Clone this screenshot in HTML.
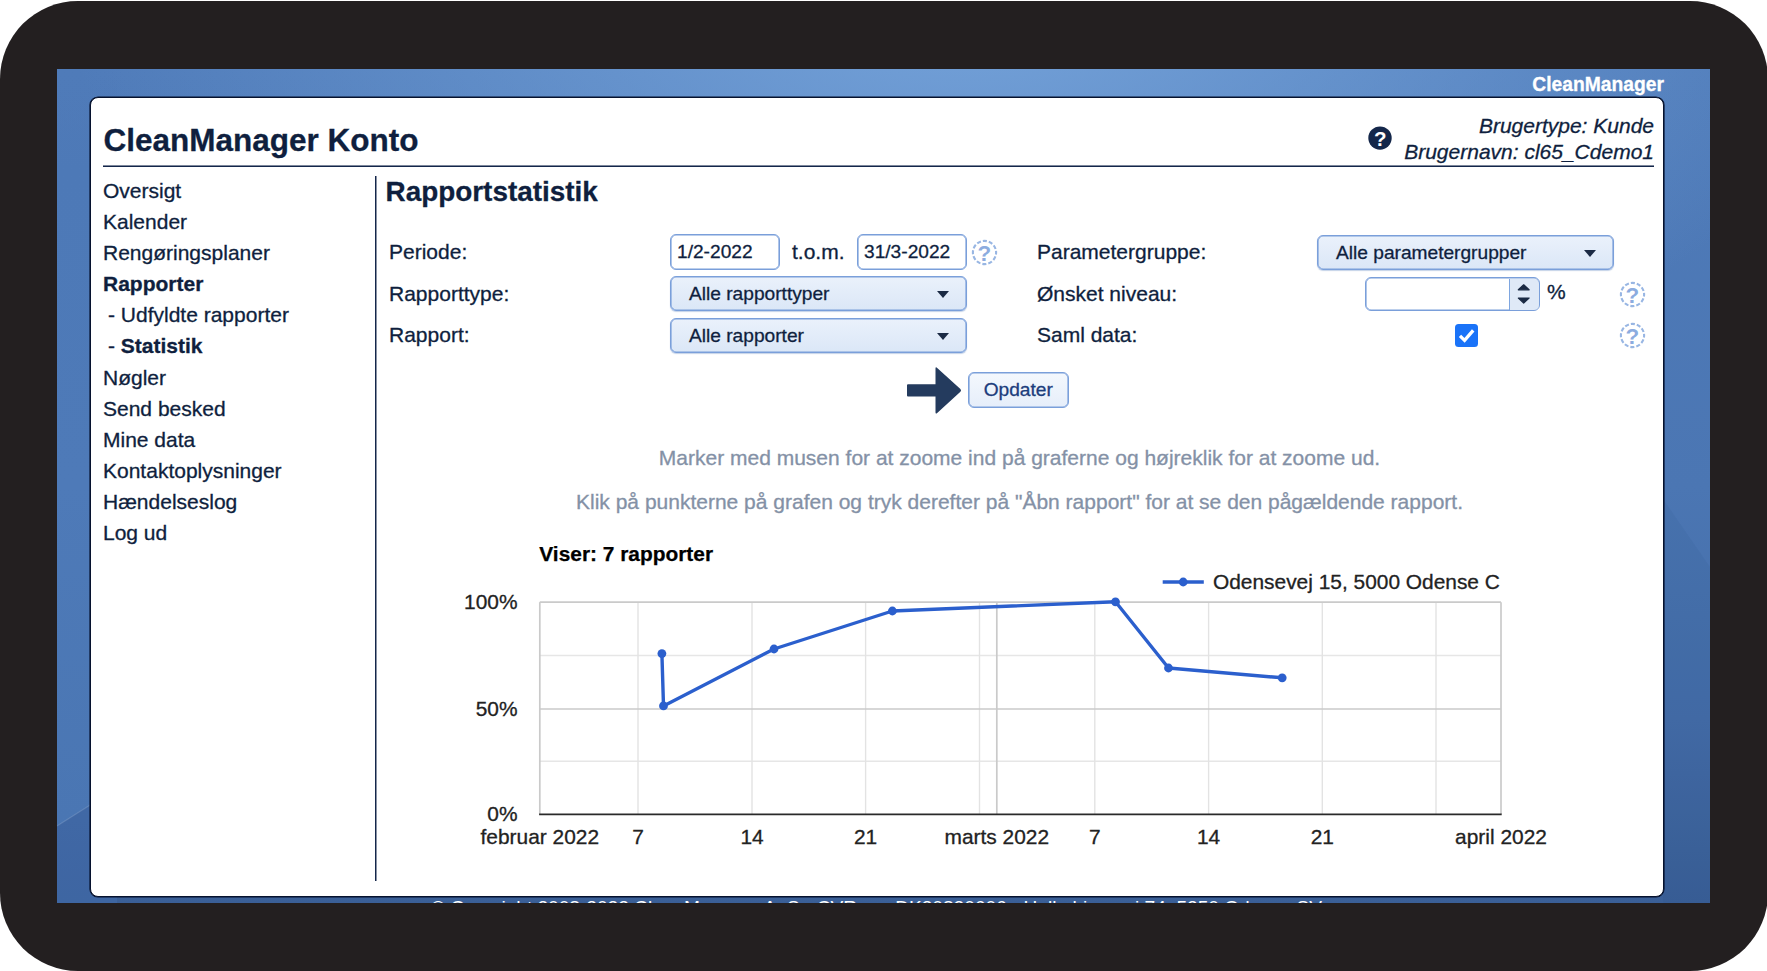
<!DOCTYPE html>
<html lang="da">
<head>
<meta charset="utf-8">
<title>CleanManager Konto - Rapportstatistik</title>
<style>
*{box-sizing:border-box;margin:0;padding:0}
html,body{width:1767px;height:971px;overflow:hidden;background:#fff}
body{font-family:"Liberation Sans",Arial,Helvetica,sans-serif;color:#0f1f3e;position:relative;-webkit-text-stroke:.3px #0f1f3e}
.frame{position:absolute;left:0;top:1px;width:1768px;height:970px;background:#231f20;border-radius:78px}
.screen{position:absolute;left:57px;top:69px;width:1653px;height:834px;overflow:hidden;
 background:
  radial-gradient(ellipse 900px 430px at 55% -8%, #75a3da 0%, rgba(117,163,218,0) 100%),
  linear-gradient(180deg,#4f7bb9 0%,#4b76b3 50%,#446da8 78%,#3a5f97 100%);}
.brand{position:absolute;right:46px;top:5px;font-size:19.3px;font-weight:bold;color:#fff;-webkit-text-stroke:.3px #fff;letter-spacing:0}
.panel{position:absolute;left:33px;top:28px;width:1574px;height:800px;background:#fff;border:1px solid #06122e;box-shadow:0 0 0 .6px #06122e;border-radius:8px}
.copy{position:absolute;left:0;width:1639px;top:828.4px;text-align:center;color:#fff;-webkit-text-stroke:0;font-size:19.1px;line-height:22px;white-space:nowrap}
.abs{position:absolute;white-space:nowrap}
h1{position:absolute;left:103.5px;top:122px;font-size:31.5px;line-height:36px;font-weight:bold;color:#0f1f3e;white-space:nowrap}
.hr{position:absolute;left:103px;top:166px;width:1550.5px;height:1px;background:#14264a;box-shadow:0 -.55px 0 0 #14264a}
.vr{position:absolute;left:375px;top:176px;width:1px;height:705px;background:#14264a;box-shadow:.5px 0 0 0 #14264a}
.user{position:absolute;right:113px;top:113px;text-align:right;font-style:italic;font-size:21px;line-height:26px;color:#0f1f3e;white-space:nowrap}
.menu{position:absolute;left:103px;top:175px;font-size:21px;line-height:31.1px;color:#0f1f3e;white-space:nowrap}
.menu div.sub{padding-left:5px}
h2{position:absolute;left:385.5px;top:175px;font-size:27.9px;line-height:34px;font-weight:bold;color:#0f1f3e;white-space:nowrap}
.lbl{position:absolute;font-size:21px;line-height:24px;color:#0f1f3e;white-space:nowrap}
.inp{position:absolute;height:36px;border:1px solid #7a9fda;box-shadow:inset 0 0 0 .6px #7a9fda;border-radius:6px;background:#fff;font-size:19.15px;line-height:34px;padding-left:6px;color:#0f1f3e;white-space:nowrap}
.sel{position:absolute;height:35px;border:1px solid #7a9fda;border-radius:6px;background:linear-gradient(180deg,#eaf1fb 0%,#dbe7f7 100%);font-size:19.15px;line-height:33px;padding-left:18px;color:#0f1f3e;white-space:nowrap;box-shadow:inset 0 0 0 .6px #7a9fda,0 1px 1px rgba(90,130,190,.35)}
.sel:after{content:"";position:absolute;right:17px;top:13.5px;border-left:6px solid transparent;border-right:6px solid transparent;border-top:7px solid #1b2a44}
.help{position:absolute;width:26px;height:26px}
.hint{position:absolute;left:376px;width:1287px;text-align:center;font-size:21px;line-height:24px;color:#8491a6;-webkit-text-stroke:.3px #8491a6;white-space:nowrap}
.btn{position:absolute;left:968px;top:372px;width:100.5px;height:36px;border:1px solid #7a9fda;box-shadow:inset 0 0 0 .6px #7a9fda;border-radius:6px;background:linear-gradient(180deg,#f4f8fd,#e6eefa);font-size:19.15px;line-height:34px;text-align:center;color:#1c3d7c;-webkit-text-stroke:.3px #1c3d7c}
</style>
</head>
<body>
<div class="frame"></div>
<div class="screen">
  <svg class="abs" style="left:0;top:0" width="1653" height="834" viewBox="0 0 1653 834"><defs><linearGradient id="ls" x1="0" y1="0" x2="0" y2="1"><stop offset="0" stop-color="#4f7ab8" stop-opacity="0"/><stop offset=".12" stop-color="#4d79b7" stop-opacity="1"/><stop offset=".5" stop-color="#4e7ab8"/><stop offset=".9" stop-color="#4a76b3"/><stop offset="1" stop-color="#4873b0"/></linearGradient></defs><rect x="0" y="0" width="60" height="834" fill="url(#ls)"/><polygon points="0,757 34,735.5 60,719 60,834 0,834" fill="rgba(25,50,110,.2)"/><line x1="0" y1="757" x2="34" y2="735.5" stroke="rgba(255,255,255,.14)" stroke-width="1.2"/><polygon points="1606,430 1653,498 1653,834 1606,834" fill="rgba(20,45,100,.06)"/></svg>
  <div class="brand">CleanManager</div>
  <div class="panel"></div>
  <div class="copy">© Copyright 2008-2022 CleanManager ApS - CVR-nr.: DK30820606 - Holkebjergvej 74, 5250 Odense SV</div>
</div>

<h1>CleanManager Konto</h1>
<div class="user">Brugertype: Kunde<br>Brugernavn: cl65_Cdemo1</div>
<svg class="abs" style="left:1367px;top:125px" width="26" height="26" viewBox="0 0 26 26"><circle cx="13" cy="13.1" r="11.7" fill="#14274a"/><text x="13.2" y="20.6" text-anchor="middle" font-family="Liberation Sans, Arial, sans-serif" font-weight="bold" font-size="20.5" fill="#fff">?</text></svg>
<div class="hr"></div>
<div class="vr"></div>

<div class="menu">
  <div>Oversigt</div>
  <div>Kalender</div>
  <div>Rengøringsplaner</div>
  <div><b>Rapporter</b></div>
  <div class="sub">- Udfyldte rapporter</div>
  <div class="sub">- <b>Statistik</b></div>
  <div>Nøgler</div>
  <div>Send besked</div>
  <div>Mine data</div>
  <div>Kontaktoplysninger</div>
  <div>Hændelseslog</div>
  <div>Log ud</div>
</div>

<h2>Rapportstatistik</h2>

<div class="lbl" style="left:389px;top:240px">Periode:</div>
<div class="lbl" style="left:389px;top:282px">Rapporttype:</div>
<div class="lbl" style="left:389px;top:323px">Rapport:</div>
<div class="inp" style="left:670px;top:234px;width:109.5px">1/2-2022</div>
<div class="lbl" style="left:792px;top:240px">t.o.m.</div>
<div class="inp" style="left:857px;top:234px;width:109.5px">31/3-2022</div>
<div class="sel" style="left:670px;top:276px;width:296.5px">Alle rapporttyper</div>
<div class="sel" style="left:670px;top:318px;width:296.5px">Alle rapporter</div>

<div class="lbl" style="left:1037px;top:240px">Parametergruppe:</div>
<div class="lbl" style="left:1037px;top:282px">Ønsket niveau:</div>
<div class="lbl" style="left:1037px;top:323px">Saml data:</div>
<div class="sel" style="left:1317px;top:235px;width:297px">Alle parametergrupper</div>
<div class="inp" style="left:1365px;top:277px;width:175px;height:34px"></div>
<div class="lbl" style="left:1547px;top:280px">%</div>


<!-- help icons -->
<svg class="abs" style="left:971px;top:239px" width="27" height="27" viewBox="0 0 27 27"><circle cx="13.5" cy="13.5" r="11.6" fill="none" stroke="#98b6e3" stroke-width="2.1" stroke-dasharray="4.1 1.97" stroke-dashoffset="-4.05"/><text x="13.3" y="21.7" text-anchor="middle" font-family="Liberation Sans, Arial, sans-serif" font-weight="bold" font-size="22.4" fill="#8cacdf">?</text></svg>
<svg class="abs" style="left:1618.5px;top:280.5px" width="27" height="27" viewBox="0 0 27 27"><circle cx="13.5" cy="13.5" r="11.6" fill="none" stroke="#98b6e3" stroke-width="2.1" stroke-dasharray="4.1 1.97" stroke-dashoffset="-4.05"/><text x="13.3" y="21.7" text-anchor="middle" font-family="Liberation Sans, Arial, sans-serif" font-weight="bold" font-size="22.4" fill="#8cacdf">?</text></svg>
<svg class="abs" style="left:1618.5px;top:322px" width="27" height="27" viewBox="0 0 27 27"><circle cx="13.5" cy="13.5" r="11.6" fill="none" stroke="#98b6e3" stroke-width="2.1" stroke-dasharray="4.1 1.97" stroke-dashoffset="-4.05"/><text x="13.3" y="21.7" text-anchor="middle" font-family="Liberation Sans, Arial, sans-serif" font-weight="bold" font-size="22.4" fill="#8cacdf">?</text></svg>

<!-- spinner -->
<div class="abs" style="left:1509px;top:278.5px;width:29.5px;height:31px;background:#dfe9f7;border-left:1.5px solid #7ea6e0;border-radius:0 5px 5px 0"></div>
<svg class="abs" style="left:1514px;top:281px" width="20" height="27" viewBox="0 0 20 27"><path d="M9.7 3.8 L15.1 8.8 H4.3 Z M9.7 22.1 L15.1 17 H4.3 Z" fill="#1b2a44" stroke="#1b2a44" stroke-width="1.2" stroke-linejoin="round"/></svg>

<!-- checkbox -->
<svg class="abs" style="left:1455px;top:324px" width="23" height="23" viewBox="0 0 23 23"><rect x="0" y="0" width="23" height="23" rx="3.5" fill="#1a73f8"/><path d="M5 11.8 L9.6 16.4 L18.2 6.4" fill="none" stroke="#fff" stroke-width="3.3" stroke-linecap="butt" stroke-linejoin="miter"/></svg>

<!-- arrow -->
<svg class="abs" style="left:905px;top:364px" width="60" height="53" viewBox="0 0 60 53"><path d="M3 20.2 H30.5 V4.6 Q30.5 2.4 32.2 3.9 L55.4 25 Q56.8 26.4 55.4 27.8 L32.2 48.9 Q30.5 50.4 30.5 48.2 V32.6 H3 Q2 32.6 2 31.6 V21.2 Q2 20.2 3 20.2 Z" fill="#243b5e"/></svg>

<div class="btn">Opdater</div>

<div class="hint" style="top:446px">Marker med musen for at zoome ind på graferne og højreklik for at zoome ud.</div>
<div class="hint" style="top:490px">Klik på punkterne på grafen og tryk derefter på "Åbn rapport" for at se den pågældende rapport.</div>

<!-- chart -->
<svg class="abs" style="left:430px;top:535px" width="1160" height="330" viewBox="0 0 1160 330" font-family="Liberation Sans, Arial, sans-serif">
<text x="109.3" y="26" font-size="20.9" font-weight="bold" fill="#000" stroke="#000" stroke-width=".25">Viser: 7 rapporter</text>
<line x1="109.8" x2="1071" y1="120.5" y2="120.5" stroke="#e6e6e6" stroke-width="1.4"/>
<line x1="109.8" x2="1071" y1="226.2" y2="226.2" stroke="#e6e6e6" stroke-width="1.4"/>
<line x1="208" x2="208" y1="67.2" y2="279" stroke="#e3e3e3" stroke-width="1.4"/>
<line x1="322" x2="322" y1="67.2" y2="279" stroke="#e3e3e3" stroke-width="1.4"/>
<line x1="435.6" x2="435.6" y1="67.2" y2="279" stroke="#e3e3e3" stroke-width="1.4"/>
<line x1="549.5" x2="549.5" y1="67.2" y2="279" stroke="#e3e3e3" stroke-width="1.4"/>
<line x1="664.8" x2="664.8" y1="67.2" y2="279" stroke="#e3e3e3" stroke-width="1.4"/>
<line x1="778.6" x2="778.6" y1="67.2" y2="279" stroke="#e3e3e3" stroke-width="1.4"/>
<line x1="892.3" x2="892.3" y1="67.2" y2="279" stroke="#e3e3e3" stroke-width="1.4"/>
<line x1="1006" x2="1006" y1="67.2" y2="279" stroke="#e3e3e3" stroke-width="1.4"/>
<line x1="109.8" x2="109.8" y1="67.2" y2="279" stroke="#cacaca" stroke-width="1.7"/>
<line x1="566.8" x2="566.8" y1="67.2" y2="279" stroke="#cacaca" stroke-width="1.7"/>
<line x1="1071" x2="1071" y1="67.2" y2="279" stroke="#cacaca" stroke-width="1.7"/>
<line x1="109.8" x2="1071" y1="67.2" y2="67.2" stroke="#cacaca" stroke-width="1.7"/>
<line x1="109.8" x2="1071" y1="174" y2="174" stroke="#cacaca" stroke-width="1.7"/>
<line x1="109.1" x2="1071.7" y1="279.3" y2="279.3" stroke="#2a2a2a" stroke-width="1.8"/>
<polyline fill="none" stroke="#2b5fcd" stroke-width="3.4" stroke-linejoin="round" stroke-linecap="round" points="231.9,118.6 233.5,170.9 344,114 462.4,76 685.5,66.8 738.5,133 852.2,142.8"/>
<circle cx="231.9" cy="118.6" r="4.4" fill="#2b5fcd"/>
<circle cx="233.5" cy="170.9" r="4.4" fill="#2b5fcd"/>
<circle cx="344" cy="114" r="4.4" fill="#2b5fcd"/>
<circle cx="462.4" cy="76" r="4.4" fill="#2b5fcd"/>
<circle cx="685.5" cy="66.8" r="4.4" fill="#2b5fcd"/>
<circle cx="738.5" cy="133" r="4.4" fill="#2b5fcd"/>
<circle cx="852.2" cy="142.8" r="4.4" fill="#2b5fcd"/>
<text x="87.5" y="74.2" font-size="20.9" text-anchor="end" fill="#222" stroke="#222" stroke-width=".3">100%</text>
<text x="87.5" y="181.0" font-size="20.9" text-anchor="end" fill="#222" stroke="#222" stroke-width=".3">50%</text>
<text x="87.5" y="286.2" font-size="20.9" text-anchor="end" fill="#222" stroke="#222" stroke-width=".3">0%</text>
<text x="109.8" y="309" font-size="20.9" text-anchor="middle" fill="#222" stroke="#222" stroke-width=".3">februar 2022</text>
<text x="208" y="309" font-size="20.9" text-anchor="middle" fill="#222" stroke="#222" stroke-width=".3">7</text>
<text x="322" y="309" font-size="20.9" text-anchor="middle" fill="#222" stroke="#222" stroke-width=".3">14</text>
<text x="435.6" y="309" font-size="20.9" text-anchor="middle" fill="#222" stroke="#222" stroke-width=".3">21</text>
<text x="566.8" y="309" font-size="20.9" text-anchor="middle" fill="#222" stroke="#222" stroke-width=".3">marts 2022</text>
<text x="664.8" y="309" font-size="20.9" text-anchor="middle" fill="#222" stroke="#222" stroke-width=".3">7</text>
<text x="778.6" y="309" font-size="20.9" text-anchor="middle" fill="#222" stroke="#222" stroke-width=".3">14</text>
<text x="892.3" y="309" font-size="20.9" text-anchor="middle" fill="#222" stroke="#222" stroke-width=".3">21</text>
<text x="1071" y="309" font-size="20.9" text-anchor="middle" fill="#222" stroke="#222" stroke-width=".3">april 2022</text>
<line x1="732.7" x2="773.8" y1="47" y2="47" stroke="#2b5fcd" stroke-width="3.4"/>
<circle cx="753.2" cy="47" r="4.4" fill="#2b5fcd"/>
<text x="783" y="54.2" font-size="20.9" fill="#222" stroke="#222" stroke-width=".3">Odensevej 15, 5000 Odense C</text>
</svg>
</body>
</html>
